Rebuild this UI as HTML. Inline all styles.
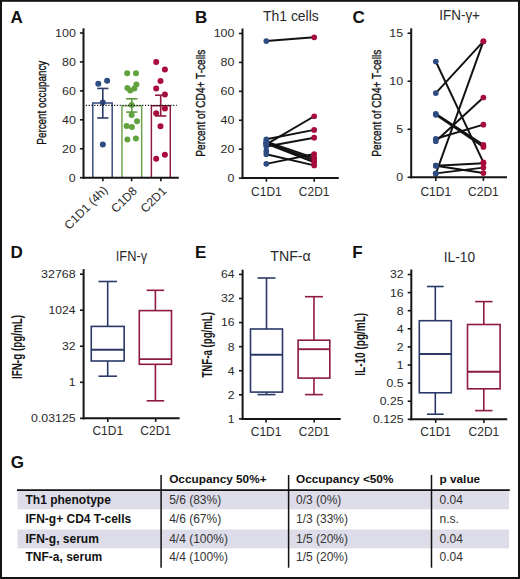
<!DOCTYPE html>
<html><head><meta charset="utf-8"><style>
html,body{margin:0;padding:0;background:#fff;}
body{width:520px;height:579px;overflow:hidden;}
svg{display:block;font-family:"Liberation Sans",sans-serif;}
</style></head><body>
<svg width="520" height="579" viewBox="0 0 520 579">
<rect x="0" y="0" width="520" height="579" fill="#151515"/>
<rect x="2" y="1.8" width="516" height="575.2" fill="#fff"/>
<text x="10.50" y="23.30" font-size="17" text-anchor="start" font-weight="bold" fill="#111" >A</text>
<text stroke="#111" stroke-width="0.35" transform="translate(46.10,102.70) rotate(-90)" x="0" y="0" font-size="13" text-anchor="middle" font-weight="normal" fill="#151515" textLength="84" lengthAdjust="spacingAndGlyphs">Percent occupancy</text>
<path d="M92.80,177.7 V103.00 H112.20 V177.7" fill="none" stroke="#33477c" stroke-width="1.45"/>
<path d="M121.95,177.7 V105.88 H141.65 V177.7" fill="none" stroke="#6ba04a" stroke-width="1.45"/>
<path d="M151.40,177.7 V105.73 H170.30 V177.7" fill="none" stroke="#8e1a3e" stroke-width="1.45"/>
<circle cx="98.30" cy="83.70" r="3.0" fill="#2e4b82"/>
<circle cx="107.10" cy="80.82" r="3.0" fill="#2e4b82"/>
<circle cx="102.80" cy="102.42" r="3.0" fill="#2e4b82"/>
<circle cx="102.80" cy="144.61" r="3.0" fill="#2e4b82"/>
<circle cx="127.20" cy="73.19" r="3.0" fill="#62a23e"/>
<circle cx="136.00" cy="73.19" r="3.0" fill="#62a23e"/>
<circle cx="136.40" cy="84.42" r="3.0" fill="#62a23e"/>
<circle cx="127.40" cy="88.02" r="3.0" fill="#62a23e"/>
<circle cx="130.20" cy="90.61" r="3.0" fill="#62a23e"/>
<circle cx="134.40" cy="88.60" r="3.0" fill="#62a23e"/>
<circle cx="131.60" cy="105.01" r="3.0" fill="#62a23e"/>
<circle cx="131.60" cy="115.09" r="3.0" fill="#62a23e"/>
<circle cx="137.00" cy="121.14" r="3.0" fill="#62a23e"/>
<circle cx="126.60" cy="126.04" r="3.0" fill="#62a23e"/>
<circle cx="131.90" cy="126.90" r="3.0" fill="#62a23e"/>
<circle cx="127.40" cy="139.57" r="3.0" fill="#62a23e"/>
<circle cx="135.90" cy="138.42" r="3.0" fill="#62a23e"/>
<circle cx="156.20" cy="61.96" r="3.0" fill="#a80c3c"/>
<circle cx="164.90" cy="69.59" r="3.0" fill="#a80c3c"/>
<circle cx="160.50" cy="80.96" r="3.0" fill="#a80c3c"/>
<circle cx="156.20" cy="88.45" r="3.0" fill="#a80c3c"/>
<circle cx="164.90" cy="94.50" r="3.0" fill="#a80c3c"/>
<circle cx="164.90" cy="108.61" r="3.0" fill="#a80c3c"/>
<circle cx="156.20" cy="113.36" r="3.0" fill="#a80c3c"/>
<circle cx="160.50" cy="126.32" r="3.0" fill="#a80c3c"/>
<circle cx="156.20" cy="158.72" r="3.0" fill="#a80c3c"/>
<circle cx="164.90" cy="154.84" r="3.0" fill="#a80c3c"/>
<line x1="102.80" y1="88.45" x2="102.80" y2="117.97" stroke="#2c3a66" stroke-width="1.6" />
<line x1="97.20" y1="88.45" x2="108.40" y2="88.45" stroke="#2c3a66" stroke-width="1.6" />
<line x1="97.20" y1="117.97" x2="108.40" y2="117.97" stroke="#2c3a66" stroke-width="1.6" />
<line x1="131.80" y1="98.82" x2="131.80" y2="112.07" stroke="#5e9a3e" stroke-width="1.6" />
<line x1="126.20" y1="98.82" x2="137.40" y2="98.82" stroke="#5e9a3e" stroke-width="1.6" />
<line x1="126.20" y1="112.07" x2="137.40" y2="112.07" stroke="#5e9a3e" stroke-width="1.6" />
<line x1="160.70" y1="95.22" x2="160.70" y2="115.96" stroke="#8e1a3e" stroke-width="1.6" />
<line x1="155.10" y1="95.22" x2="166.30" y2="95.22" stroke="#8e1a3e" stroke-width="1.6" />
<line x1="155.10" y1="115.96" x2="166.30" y2="115.96" stroke="#8e1a3e" stroke-width="1.6" />
<line x1="85.80" y1="105.40" x2="176.80" y2="105.40" stroke="#111" stroke-width="1.3" stroke-dasharray="1.2 1.62"/>
<line x1="83.50" y1="28.30" x2="83.50" y2="178.70" stroke="#151515" stroke-width="2.0" />
<line x1="79.90" y1="177.70" x2="83.50" y2="177.70" stroke="#151515" stroke-width="1.6" />
<text x="75.80" y="181.60" font-size="10.8" text-anchor="end" font-weight="normal" fill="#2a2a2a" textLength="6.91" lengthAdjust="spacingAndGlyphs" >0</text>
<line x1="79.90" y1="148.76" x2="83.50" y2="148.76" stroke="#151515" stroke-width="1.6" />
<text x="75.80" y="152.66" font-size="10.8" text-anchor="end" font-weight="normal" fill="#2a2a2a" textLength="13.81" lengthAdjust="spacingAndGlyphs" >20</text>
<line x1="79.90" y1="119.82" x2="83.50" y2="119.82" stroke="#151515" stroke-width="1.6" />
<text x="75.80" y="123.72" font-size="10.8" text-anchor="end" font-weight="normal" fill="#2a2a2a" textLength="13.81" lengthAdjust="spacingAndGlyphs" >40</text>
<line x1="79.90" y1="90.88" x2="83.50" y2="90.88" stroke="#151515" stroke-width="1.6" />
<text x="75.80" y="94.78" font-size="10.8" text-anchor="end" font-weight="normal" fill="#2a2a2a" textLength="13.81" lengthAdjust="spacingAndGlyphs" >60</text>
<line x1="79.90" y1="61.94" x2="83.50" y2="61.94" stroke="#151515" stroke-width="1.6" />
<text x="75.80" y="65.84" font-size="10.8" text-anchor="end" font-weight="normal" fill="#2a2a2a" textLength="13.81" lengthAdjust="spacingAndGlyphs" >80</text>
<line x1="79.90" y1="33.00" x2="83.50" y2="33.00" stroke="#151515" stroke-width="1.6" />
<text x="75.80" y="36.90" font-size="10.8" text-anchor="end" font-weight="normal" fill="#2a2a2a" textLength="20.72" lengthAdjust="spacingAndGlyphs" >100</text>
<line x1="83.00" y1="177.70" x2="178.80" y2="177.70" stroke="#151515" stroke-width="2.0" />
<line x1="102.90" y1="177.70" x2="102.90" y2="181.30" stroke="#151515" stroke-width="1.6" />
<line x1="131.60" y1="177.70" x2="131.60" y2="181.30" stroke="#151515" stroke-width="1.6" />
<line x1="160.90" y1="177.70" x2="160.90" y2="181.30" stroke="#151515" stroke-width="1.6" />
<text transform="translate(108.30,191.00) rotate(-45)" font-size="12" text-anchor="end" fill="#2a2a2a">C1D1 (4h)</text>
<text transform="translate(137.80,191.80) rotate(-45)" font-size="12" text-anchor="end" fill="#2a2a2a">C1D8</text>
<text transform="translate(167.10,191.80) rotate(-45)" font-size="12" text-anchor="end" fill="#2a2a2a">C2D1</text>
<text x="195.00" y="23.30" font-size="17" text-anchor="start" font-weight="bold" fill="#111" >B</text>
<text x="290.90" y="20.50" font-size="14.5" text-anchor="middle" font-weight="normal" fill="#2a2a2a" textLength="55.8" lengthAdjust="spacingAndGlyphs" >Th1 cells</text>
<text stroke="#111" stroke-width="0.35" transform="translate(205.30,103.20) rotate(-90)" x="0" y="0" font-size="13" text-anchor="middle" font-weight="normal" fill="#151515" textLength="107" lengthAdjust="spacingAndGlyphs">Percent of CD4+ T-cells</text>
<line x1="266.30" y1="41.03" x2="314.20" y2="37.30" stroke="#111" stroke-width="1.95" />
<line x1="266.30" y1="144.43" x2="314.20" y2="116.24" stroke="#111" stroke-width="1.95" />
<line x1="266.30" y1="139.25" x2="314.20" y2="129.90" stroke="#111" stroke-width="1.95" />
<line x1="266.30" y1="146.58" x2="314.20" y2="137.67" stroke="#111" stroke-width="1.95" />
<line x1="266.30" y1="141.55" x2="314.20" y2="157.80" stroke="#111" stroke-width="1.95" />
<line x1="266.30" y1="142.99" x2="314.20" y2="159.96" stroke="#111" stroke-width="1.95" />
<line x1="266.30" y1="143.71" x2="314.20" y2="162.26" stroke="#111" stroke-width="1.95" />
<line x1="266.30" y1="154.20" x2="314.20" y2="165.42" stroke="#111" stroke-width="1.95" />
<line x1="266.30" y1="163.84" x2="314.20" y2="154.06" stroke="#111" stroke-width="1.95" />
<circle cx="266.30" cy="41.03" r="2.85" fill="#2e4b82"/>
<circle cx="314.20" cy="37.30" r="2.85" fill="#a80c3c"/>
<circle cx="266.30" cy="144.43" r="2.85" fill="#2e4b82"/>
<circle cx="314.20" cy="116.24" r="2.85" fill="#a80c3c"/>
<circle cx="266.30" cy="139.25" r="2.85" fill="#2e4b82"/>
<circle cx="314.20" cy="129.90" r="2.85" fill="#a80c3c"/>
<circle cx="266.30" cy="146.58" r="2.85" fill="#2e4b82"/>
<circle cx="314.20" cy="137.67" r="2.85" fill="#a80c3c"/>
<circle cx="266.30" cy="141.55" r="2.85" fill="#2e4b82"/>
<circle cx="314.20" cy="157.80" r="2.85" fill="#a80c3c"/>
<circle cx="266.30" cy="142.99" r="2.85" fill="#2e4b82"/>
<circle cx="314.20" cy="159.96" r="2.85" fill="#a80c3c"/>
<circle cx="266.30" cy="143.71" r="2.85" fill="#2e4b82"/>
<circle cx="314.20" cy="162.26" r="2.85" fill="#a80c3c"/>
<circle cx="266.30" cy="154.20" r="2.85" fill="#2e4b82"/>
<circle cx="314.20" cy="165.42" r="2.85" fill="#a80c3c"/>
<circle cx="266.30" cy="163.84" r="2.85" fill="#2e4b82"/>
<circle cx="314.20" cy="154.06" r="2.85" fill="#a80c3c"/>
<circle cx="266.30" cy="151.18" r="2.85" fill="#2e4b82"/>
<circle cx="266.30" cy="143.28" r="2.85" fill="#2e4b82"/>
<line x1="242.50" y1="28.50" x2="242.50" y2="179.10" stroke="#151515" stroke-width="2.0" />
<line x1="238.90" y1="178.10" x2="242.50" y2="178.10" stroke="#151515" stroke-width="1.6" />
<text x="234.40" y="182.00" font-size="10.8" text-anchor="end" font-weight="normal" fill="#2a2a2a" textLength="6.91" lengthAdjust="spacingAndGlyphs" >0</text>
<line x1="238.90" y1="149.18" x2="242.50" y2="149.18" stroke="#151515" stroke-width="1.6" />
<text x="234.40" y="153.08" font-size="10.8" text-anchor="end" font-weight="normal" fill="#2a2a2a" textLength="13.81" lengthAdjust="spacingAndGlyphs" >20</text>
<line x1="238.90" y1="120.26" x2="242.50" y2="120.26" stroke="#151515" stroke-width="1.6" />
<text x="234.40" y="124.16" font-size="10.8" text-anchor="end" font-weight="normal" fill="#2a2a2a" textLength="13.81" lengthAdjust="spacingAndGlyphs" >40</text>
<line x1="238.90" y1="91.34" x2="242.50" y2="91.34" stroke="#151515" stroke-width="1.6" />
<text x="234.40" y="95.24" font-size="10.8" text-anchor="end" font-weight="normal" fill="#2a2a2a" textLength="13.81" lengthAdjust="spacingAndGlyphs" >60</text>
<line x1="238.90" y1="62.42" x2="242.50" y2="62.42" stroke="#151515" stroke-width="1.6" />
<text x="234.40" y="66.32" font-size="10.8" text-anchor="end" font-weight="normal" fill="#2a2a2a" textLength="13.81" lengthAdjust="spacingAndGlyphs" >80</text>
<line x1="238.90" y1="33.50" x2="242.50" y2="33.50" stroke="#151515" stroke-width="1.6" />
<text x="234.40" y="37.40" font-size="10.8" text-anchor="end" font-weight="normal" fill="#2a2a2a" textLength="20.72" lengthAdjust="spacingAndGlyphs" >100</text>
<line x1="241.60" y1="178.10" x2="338.80" y2="178.10" stroke="#151515" stroke-width="2.0" />
<line x1="266.40" y1="178.10" x2="266.40" y2="181.70" stroke="#151515" stroke-width="1.6" />
<line x1="314.20" y1="178.10" x2="314.20" y2="181.70" stroke="#151515" stroke-width="1.6" />
<text x="266.40" y="195.80" font-size="12" text-anchor="middle" font-weight="normal" fill="#2a2a2a" >C1D1</text>
<text x="314.20" y="195.80" font-size="12" text-anchor="middle" font-weight="normal" fill="#2a2a2a" >C2D1</text>
<text x="352.50" y="23.30" font-size="17" text-anchor="start" font-weight="bold" fill="#111" >C</text>
<text x="459.60" y="19.80" font-size="14.5" text-anchor="middle" font-weight="normal" fill="#2a2a2a" textLength="40.8" lengthAdjust="spacingAndGlyphs" >IFN-&#947;+</text>
<text stroke="#111" stroke-width="0.35" transform="translate(381.00,103.20) rotate(-90)" x="0" y="0" font-size="13" text-anchor="middle" font-weight="normal" fill="#151515" textLength="107" lengthAdjust="spacingAndGlyphs">Percent of CD4+ T-cells</text>
<line x1="435.80" y1="61.52" x2="483.40" y2="162.32" stroke="#111" stroke-width="1.95" />
<line x1="435.80" y1="93.10" x2="483.40" y2="41.36" stroke="#111" stroke-width="1.95" />
<line x1="435.80" y1="113.84" x2="483.40" y2="144.94" stroke="#111" stroke-width="1.95" />
<line x1="435.80" y1="114.80" x2="483.40" y2="146.96" stroke="#111" stroke-width="1.95" />
<line x1="435.80" y1="141.20" x2="483.40" y2="97.52" stroke="#111" stroke-width="1.95" />
<line x1="435.80" y1="138.80" x2="483.40" y2="124.69" stroke="#111" stroke-width="1.95" />
<line x1="435.80" y1="165.68" x2="483.40" y2="173.07" stroke="#111" stroke-width="1.95" />
<line x1="435.80" y1="165.68" x2="483.40" y2="163.28" stroke="#111" stroke-width="1.95" />
<line x1="435.80" y1="173.36" x2="483.40" y2="167.60" stroke="#111" stroke-width="1.95" />
<line x1="435.80" y1="173.84" x2="483.40" y2="41.36" stroke="#111" stroke-width="1.95" />
<circle cx="435.80" cy="61.52" r="2.85" fill="#2e4b82"/>
<circle cx="483.40" cy="162.32" r="2.85" fill="#a80c3c"/>
<circle cx="435.80" cy="93.10" r="2.85" fill="#2e4b82"/>
<circle cx="483.40" cy="41.36" r="2.85" fill="#a80c3c"/>
<circle cx="435.80" cy="113.84" r="2.85" fill="#2e4b82"/>
<circle cx="483.40" cy="144.94" r="2.85" fill="#a80c3c"/>
<circle cx="435.80" cy="114.80" r="2.85" fill="#2e4b82"/>
<circle cx="483.40" cy="146.96" r="2.85" fill="#a80c3c"/>
<circle cx="435.80" cy="141.20" r="2.85" fill="#2e4b82"/>
<circle cx="483.40" cy="97.52" r="2.85" fill="#a80c3c"/>
<circle cx="435.80" cy="138.80" r="2.85" fill="#2e4b82"/>
<circle cx="483.40" cy="124.69" r="2.85" fill="#a80c3c"/>
<circle cx="435.80" cy="165.68" r="2.85" fill="#2e4b82"/>
<circle cx="483.40" cy="173.07" r="2.85" fill="#a80c3c"/>
<circle cx="435.80" cy="165.68" r="2.85" fill="#2e4b82"/>
<circle cx="483.40" cy="163.28" r="2.85" fill="#a80c3c"/>
<circle cx="435.80" cy="173.36" r="2.85" fill="#2e4b82"/>
<circle cx="483.40" cy="167.60" r="2.85" fill="#a80c3c"/>
<circle cx="435.80" cy="173.84" r="2.85" fill="#2e4b82"/>
<circle cx="483.40" cy="41.36" r="2.85" fill="#a80c3c"/>
<line x1="411.20" y1="28.30" x2="411.20" y2="178.30" stroke="#151515" stroke-width="2.0" />
<line x1="407.60" y1="177.30" x2="411.20" y2="177.30" stroke="#151515" stroke-width="1.6" />
<text x="403.20" y="181.20" font-size="10.8" text-anchor="end" font-weight="normal" fill="#2a2a2a" textLength="6.91" lengthAdjust="spacingAndGlyphs" >0</text>
<line x1="407.60" y1="129.27" x2="411.20" y2="129.27" stroke="#151515" stroke-width="1.6" />
<text x="403.20" y="133.17" font-size="10.8" text-anchor="end" font-weight="normal" fill="#2a2a2a" textLength="6.91" lengthAdjust="spacingAndGlyphs" >5</text>
<line x1="407.60" y1="81.23" x2="411.20" y2="81.23" stroke="#151515" stroke-width="1.6" />
<text x="403.20" y="85.13" font-size="10.8" text-anchor="end" font-weight="normal" fill="#2a2a2a" textLength="13.81" lengthAdjust="spacingAndGlyphs" >10</text>
<line x1="407.60" y1="33.20" x2="411.20" y2="33.20" stroke="#151515" stroke-width="1.6" />
<text x="403.20" y="37.10" font-size="10.8" text-anchor="end" font-weight="normal" fill="#2a2a2a" textLength="13.81" lengthAdjust="spacingAndGlyphs" >15</text>
<line x1="410.30" y1="177.30" x2="507.00" y2="177.30" stroke="#151515" stroke-width="2.0" />
<line x1="435.80" y1="177.30" x2="435.80" y2="180.90" stroke="#151515" stroke-width="1.6" />
<line x1="483.40" y1="177.30" x2="483.40" y2="180.90" stroke="#151515" stroke-width="1.6" />
<text x="435.80" y="195.80" font-size="12" text-anchor="middle" font-weight="normal" fill="#2a2a2a" >C1D1</text>
<text x="483.40" y="195.80" font-size="12" text-anchor="middle" font-weight="normal" fill="#2a2a2a" >C2D1</text>
<text x="10.50" y="258.30" font-size="17" text-anchor="start" font-weight="bold" fill="#111" >D</text>
<text x="131.40" y="260.50" font-size="14.5" text-anchor="middle" font-weight="normal" fill="#2a2a2a" textLength="31.3" lengthAdjust="spacingAndGlyphs" >IFN-&#947;</text>
<text transform="translate(21.60,347.00) rotate(-90)" x="0" y="0" font-size="14" text-anchor="middle" font-weight="bold" fill="#151515" textLength="64" lengthAdjust="spacingAndGlyphs">IFN-g (pg/mL)</text>
<line x1="107.70" y1="281.50" x2="107.70" y2="326.40" stroke="#2b3968" stroke-width="1.6" />
<line x1="107.70" y1="361.00" x2="107.70" y2="376.20" stroke="#2b3968" stroke-width="1.6" />
<line x1="98.45" y1="281.50" x2="116.95" y2="281.50" stroke="#2b3968" stroke-width="1.6" />
<line x1="98.45" y1="376.20" x2="116.95" y2="376.20" stroke="#2b3968" stroke-width="1.6" />
<rect x="91.25" y="326.40" width="32.9" height="34.60" fill="none" stroke="#2b3968" stroke-width="1.6"/>
<line x1="91.25" y1="349.80" x2="124.15" y2="349.80" stroke="#2b3968" stroke-width="1.9" />
<line x1="155.40" y1="290.30" x2="155.40" y2="310.60" stroke="#8e1a3e" stroke-width="1.6" />
<line x1="155.40" y1="364.30" x2="155.40" y2="400.80" stroke="#8e1a3e" stroke-width="1.6" />
<line x1="146.60" y1="290.30" x2="164.20" y2="290.30" stroke="#8e1a3e" stroke-width="1.6" />
<line x1="146.60" y1="400.80" x2="164.20" y2="400.80" stroke="#8e1a3e" stroke-width="1.6" />
<rect x="139.30" y="310.60" width="32.2" height="53.70" fill="none" stroke="#8e1a3e" stroke-width="1.6"/>
<line x1="139.30" y1="359.10" x2="171.50" y2="359.10" stroke="#8e1a3e" stroke-width="1.9" />
<line x1="83.60" y1="269.10" x2="83.60" y2="419.30" stroke="#151515" stroke-width="2.0" />
<line x1="80.00" y1="274.15" x2="83.60" y2="274.15" stroke="#151515" stroke-width="1.6" />
<text x="75.60" y="278.05" font-size="10.6" text-anchor="end" font-weight="normal" fill="#2a2a2a" textLength="34.5" lengthAdjust="spacingAndGlyphs" >32768</text>
<line x1="80.00" y1="310.20" x2="83.60" y2="310.20" stroke="#151515" stroke-width="1.6" />
<text x="75.60" y="314.10" font-size="10.6" text-anchor="end" font-weight="normal" fill="#2a2a2a" textLength="27" lengthAdjust="spacingAndGlyphs" >1024</text>
<line x1="80.00" y1="346.25" x2="83.60" y2="346.25" stroke="#151515" stroke-width="1.6" />
<text x="75.60" y="350.15" font-size="10.6" text-anchor="end" font-weight="normal" fill="#2a2a2a" textLength="13.56" lengthAdjust="spacingAndGlyphs" >32</text>
<line x1="80.00" y1="382.30" x2="83.60" y2="382.30" stroke="#151515" stroke-width="1.6" />
<text x="75.60" y="386.20" font-size="10.6" text-anchor="end" font-weight="normal" fill="#2a2a2a" textLength="6.78" lengthAdjust="spacingAndGlyphs" >1</text>
<line x1="80.00" y1="418.35" x2="83.60" y2="418.35" stroke="#151515" stroke-width="1.6" />
<text x="75.60" y="422.25" font-size="10.6" text-anchor="end" font-weight="normal" fill="#2a2a2a" textLength="44.5" lengthAdjust="spacingAndGlyphs" >0.03125</text>
<line x1="82.60" y1="418.30" x2="179.60" y2="418.30" stroke="#151515" stroke-width="2.0" />
<line x1="107.80" y1="418.30" x2="107.80" y2="421.90" stroke="#151515" stroke-width="1.6" />
<line x1="155.70" y1="418.30" x2="155.70" y2="421.90" stroke="#151515" stroke-width="1.6" />
<text x="107.80" y="435.40" font-size="12" text-anchor="middle" font-weight="normal" fill="#2a2a2a" >C1D1</text>
<text x="155.70" y="435.40" font-size="12" text-anchor="middle" font-weight="normal" fill="#2a2a2a" >C2D1</text>
<text x="195.00" y="258.30" font-size="17" text-anchor="start" font-weight="bold" fill="#111" >E</text>
<text x="290.50" y="261.10" font-size="14.5" text-anchor="middle" font-weight="normal" fill="#2a2a2a" textLength="40.5" lengthAdjust="spacingAndGlyphs" >TNF-&#945;</text>
<text transform="translate(212.00,344.80) rotate(-90)" x="0" y="0" font-size="14" text-anchor="middle" font-weight="bold" fill="#151515" textLength="65.5" lengthAdjust="spacingAndGlyphs">TNF-a (pg/mL)</text>
<line x1="266.50" y1="278.00" x2="266.50" y2="329.00" stroke="#2b3968" stroke-width="1.6" />
<line x1="266.50" y1="392.10" x2="266.50" y2="394.60" stroke="#2b3968" stroke-width="1.6" />
<line x1="257.50" y1="278.00" x2="275.50" y2="278.00" stroke="#2b3968" stroke-width="1.6" />
<line x1="257.50" y1="394.60" x2="275.50" y2="394.60" stroke="#2b3968" stroke-width="1.6" />
<rect x="250.50" y="329.00" width="32.0" height="63.10" fill="none" stroke="#2b3968" stroke-width="1.6"/>
<line x1="250.50" y1="354.80" x2="282.50" y2="354.80" stroke="#2b3968" stroke-width="1.9" />
<line x1="313.95" y1="296.70" x2="313.95" y2="340.20" stroke="#8e1a3e" stroke-width="1.6" />
<line x1="313.95" y1="378.10" x2="313.95" y2="394.60" stroke="#8e1a3e" stroke-width="1.6" />
<line x1="304.95" y1="296.70" x2="322.95" y2="296.70" stroke="#8e1a3e" stroke-width="1.6" />
<line x1="304.95" y1="394.60" x2="322.95" y2="394.60" stroke="#8e1a3e" stroke-width="1.6" />
<rect x="298.10" y="340.20" width="31.7" height="37.90" fill="none" stroke="#8e1a3e" stroke-width="1.6"/>
<line x1="298.10" y1="349.20" x2="329.80" y2="349.20" stroke="#8e1a3e" stroke-width="1.9" />
<line x1="242.60" y1="269.70" x2="242.60" y2="419.90" stroke="#151515" stroke-width="2.0" />
<line x1="239.00" y1="418.90" x2="242.60" y2="418.90" stroke="#151515" stroke-width="1.6" />
<text x="234.60" y="422.80" font-size="10.6" text-anchor="end" font-weight="normal" fill="#2a2a2a" textLength="6.78" lengthAdjust="spacingAndGlyphs" >1</text>
<line x1="239.00" y1="394.82" x2="242.60" y2="394.82" stroke="#151515" stroke-width="1.6" />
<text x="234.60" y="398.72" font-size="10.6" text-anchor="end" font-weight="normal" fill="#2a2a2a" textLength="6.78" lengthAdjust="spacingAndGlyphs" >2</text>
<line x1="239.00" y1="370.74" x2="242.60" y2="370.74" stroke="#151515" stroke-width="1.6" />
<text x="234.60" y="374.64" font-size="10.6" text-anchor="end" font-weight="normal" fill="#2a2a2a" textLength="6.78" lengthAdjust="spacingAndGlyphs" >4</text>
<line x1="239.00" y1="346.66" x2="242.60" y2="346.66" stroke="#151515" stroke-width="1.6" />
<text x="234.60" y="350.56" font-size="10.6" text-anchor="end" font-weight="normal" fill="#2a2a2a" textLength="6.78" lengthAdjust="spacingAndGlyphs" >8</text>
<line x1="239.00" y1="322.58" x2="242.60" y2="322.58" stroke="#151515" stroke-width="1.6" />
<text x="234.60" y="326.48" font-size="10.6" text-anchor="end" font-weight="normal" fill="#2a2a2a" textLength="13.56" lengthAdjust="spacingAndGlyphs" >16</text>
<line x1="239.00" y1="298.50" x2="242.60" y2="298.50" stroke="#151515" stroke-width="1.6" />
<text x="234.60" y="302.40" font-size="10.6" text-anchor="end" font-weight="normal" fill="#2a2a2a" textLength="13.56" lengthAdjust="spacingAndGlyphs" >32</text>
<line x1="239.00" y1="274.42" x2="242.60" y2="274.42" stroke="#151515" stroke-width="1.6" />
<text x="234.60" y="278.32" font-size="10.6" text-anchor="end" font-weight="normal" fill="#2a2a2a" textLength="13.56" lengthAdjust="spacingAndGlyphs" >64</text>
<line x1="241.60" y1="418.90" x2="340.70" y2="418.90" stroke="#151515" stroke-width="2.0" />
<line x1="266.10" y1="418.90" x2="266.10" y2="422.50" stroke="#151515" stroke-width="1.6" />
<line x1="314.20" y1="418.90" x2="314.20" y2="422.50" stroke="#151515" stroke-width="1.6" />
<text x="266.10" y="435.60" font-size="12" text-anchor="middle" font-weight="normal" fill="#2a2a2a" >C1D1</text>
<text x="314.20" y="435.60" font-size="12" text-anchor="middle" font-weight="normal" fill="#2a2a2a" >C2D1</text>
<text x="352.30" y="258.30" font-size="17" text-anchor="start" font-weight="bold" fill="#111" >F</text>
<text x="459.40" y="261.50" font-size="14.5" text-anchor="middle" font-weight="normal" fill="#2a2a2a" textLength="31.3" lengthAdjust="spacingAndGlyphs" >IL-10</text>
<text transform="translate(364.90,344.30) rotate(-90)" x="0" y="0" font-size="14" text-anchor="middle" font-weight="bold" fill="#151515" textLength="63" lengthAdjust="spacingAndGlyphs">IL-10 (pg/mL)</text>
<line x1="435.30" y1="286.50" x2="435.30" y2="320.70" stroke="#2b3968" stroke-width="1.6" />
<line x1="435.30" y1="392.80" x2="435.30" y2="414.20" stroke="#2b3968" stroke-width="1.6" />
<line x1="426.95" y1="286.50" x2="443.65" y2="286.50" stroke="#2b3968" stroke-width="1.6" />
<line x1="426.95" y1="414.20" x2="443.65" y2="414.20" stroke="#2b3968" stroke-width="1.6" />
<rect x="419.30" y="320.70" width="32.0" height="72.10" fill="none" stroke="#2b3968" stroke-width="1.6"/>
<line x1="419.30" y1="354.00" x2="451.30" y2="354.00" stroke="#2b3968" stroke-width="1.9" />
<line x1="483.80" y1="301.60" x2="483.80" y2="324.50" stroke="#8e1a3e" stroke-width="1.6" />
<line x1="483.80" y1="388.80" x2="483.80" y2="410.60" stroke="#8e1a3e" stroke-width="1.6" />
<line x1="475.10" y1="301.60" x2="492.50" y2="301.60" stroke="#8e1a3e" stroke-width="1.6" />
<line x1="475.10" y1="410.60" x2="492.50" y2="410.60" stroke="#8e1a3e" stroke-width="1.6" />
<rect x="467.50" y="324.50" width="32.6" height="64.30" fill="none" stroke="#8e1a3e" stroke-width="1.6"/>
<line x1="467.50" y1="371.80" x2="500.10" y2="371.80" stroke="#8e1a3e" stroke-width="1.9" />
<line x1="411.30" y1="269.50" x2="411.30" y2="420.30" stroke="#151515" stroke-width="2.0" />
<line x1="407.70" y1="419.30" x2="411.30" y2="419.30" stroke="#151515" stroke-width="1.6" />
<text x="403.50" y="423.20" font-size="10.6" text-anchor="end" font-weight="normal" fill="#2a2a2a" textLength="30.5" lengthAdjust="spacingAndGlyphs" >0.125</text>
<line x1="407.70" y1="401.20" x2="411.30" y2="401.20" stroke="#151515" stroke-width="1.6" />
<text x="403.50" y="405.10" font-size="10.6" text-anchor="end" font-weight="normal" fill="#2a2a2a" textLength="23.73" lengthAdjust="spacingAndGlyphs" >0.25</text>
<line x1="407.70" y1="383.10" x2="411.30" y2="383.10" stroke="#151515" stroke-width="1.6" />
<text x="403.50" y="387.00" font-size="10.6" text-anchor="end" font-weight="normal" fill="#2a2a2a" textLength="16.95" lengthAdjust="spacingAndGlyphs" >0.5</text>
<line x1="407.70" y1="365.00" x2="411.30" y2="365.00" stroke="#151515" stroke-width="1.6" />
<text x="403.50" y="368.90" font-size="10.6" text-anchor="end" font-weight="normal" fill="#2a2a2a" textLength="6.78" lengthAdjust="spacingAndGlyphs" >1</text>
<line x1="407.70" y1="346.90" x2="411.30" y2="346.90" stroke="#151515" stroke-width="1.6" />
<text x="403.50" y="350.80" font-size="10.6" text-anchor="end" font-weight="normal" fill="#2a2a2a" textLength="6.78" lengthAdjust="spacingAndGlyphs" >2</text>
<line x1="407.70" y1="328.80" x2="411.30" y2="328.80" stroke="#151515" stroke-width="1.6" />
<text x="403.50" y="332.70" font-size="10.6" text-anchor="end" font-weight="normal" fill="#2a2a2a" textLength="6.78" lengthAdjust="spacingAndGlyphs" >4</text>
<line x1="407.70" y1="310.70" x2="411.30" y2="310.70" stroke="#151515" stroke-width="1.6" />
<text x="403.50" y="314.60" font-size="10.6" text-anchor="end" font-weight="normal" fill="#2a2a2a" textLength="6.78" lengthAdjust="spacingAndGlyphs" >8</text>
<line x1="407.70" y1="292.60" x2="411.30" y2="292.60" stroke="#151515" stroke-width="1.6" />
<text x="403.50" y="296.50" font-size="10.6" text-anchor="end" font-weight="normal" fill="#2a2a2a" textLength="13.56" lengthAdjust="spacingAndGlyphs" >16</text>
<line x1="407.70" y1="274.50" x2="411.30" y2="274.50" stroke="#151515" stroke-width="1.6" />
<text x="403.50" y="278.40" font-size="10.6" text-anchor="end" font-weight="normal" fill="#2a2a2a" textLength="13.56" lengthAdjust="spacingAndGlyphs" >32</text>
<line x1="410.30" y1="419.30" x2="507.20" y2="419.30" stroke="#151515" stroke-width="2.0" />
<line x1="435.70" y1="419.30" x2="435.70" y2="422.90" stroke="#151515" stroke-width="1.6" />
<line x1="483.90" y1="419.30" x2="483.90" y2="422.90" stroke="#151515" stroke-width="1.6" />
<text x="435.70" y="435.60" font-size="12" text-anchor="middle" font-weight="normal" fill="#2a2a2a" >C1D1</text>
<text x="483.90" y="435.60" font-size="12" text-anchor="middle" font-weight="normal" fill="#2a2a2a" >C2D1</text>
<text x="10.70" y="468.10" font-size="17" text-anchor="start" font-weight="bold" fill="#111" >G</text>
<rect x="17.5" y="491.1" width="491.5" height="18.2" fill="#dddde9"/>
<rect x="17.5" y="529.5" width="491.5" height="18.8" fill="#dddde9"/>
<line x1="17.00" y1="490.20" x2="509.80" y2="490.20" stroke="#111" stroke-width="1.8" />
<line x1="161.10" y1="475.00" x2="161.10" y2="567.70" stroke="#111" stroke-width="1.5" />
<line x1="288.60" y1="475.00" x2="288.60" y2="567.70" stroke="#111" stroke-width="1.5" />
<line x1="431.50" y1="475.00" x2="431.50" y2="567.70" stroke="#111" stroke-width="1.5" />
<text x="169.20" y="482.80" font-size="11.8" text-anchor="start" font-weight="bold" fill="#111" >Occupancy 50%+</text>
<text x="296.00" y="482.80" font-size="11.8" text-anchor="start" font-weight="bold" fill="#111" >Occupancy &lt;50%</text>
<text x="439.50" y="482.80" font-size="11.8" text-anchor="start" font-weight="bold" fill="#111" >p value</text>
<text x="25.50" y="503.80" font-size="12" text-anchor="start" font-weight="bold" fill="#111" >Th1 phenotype</text>
<text x="169.20" y="503.80" font-size="12" text-anchor="start" font-weight="normal" fill="#333" >5/6 (83%)</text>
<text x="296.00" y="503.80" font-size="12" text-anchor="start" font-weight="normal" fill="#333" >0/3 (0%)</text>
<text x="439.50" y="503.80" font-size="12" text-anchor="start" font-weight="normal" fill="#333" >0.04</text>
<text x="25.50" y="523.20" font-size="12" text-anchor="start" font-weight="bold" fill="#111" >IFN-g+ CD4 T-cells</text>
<text x="169.20" y="523.20" font-size="12" text-anchor="start" font-weight="normal" fill="#333" >4/6 (67%)</text>
<text x="296.00" y="523.20" font-size="12" text-anchor="start" font-weight="normal" fill="#333" >1/3 (33%)</text>
<text x="439.50" y="523.20" font-size="12" text-anchor="start" font-weight="normal" fill="#333" >n.s.</text>
<text x="25.50" y="542.50" font-size="12" text-anchor="start" font-weight="bold" fill="#111" >IFN-g, serum</text>
<text x="169.20" y="542.50" font-size="12" text-anchor="start" font-weight="normal" fill="#333" >4/4 (100%)</text>
<text x="296.00" y="542.50" font-size="12" text-anchor="start" font-weight="normal" fill="#333" >1/5 (20%)</text>
<text x="439.50" y="542.50" font-size="12" text-anchor="start" font-weight="normal" fill="#333" >0.04</text>
<text x="25.50" y="561.30" font-size="12" text-anchor="start" font-weight="bold" fill="#111" >TNF-a, serum</text>
<text x="169.20" y="561.30" font-size="12" text-anchor="start" font-weight="normal" fill="#333" >4/4 (100%)</text>
<text x="296.00" y="561.30" font-size="12" text-anchor="start" font-weight="normal" fill="#333" >1/5 (20%)</text>
<text x="439.50" y="561.30" font-size="12" text-anchor="start" font-weight="normal" fill="#333" >0.04</text>
</svg>
</body></html>
